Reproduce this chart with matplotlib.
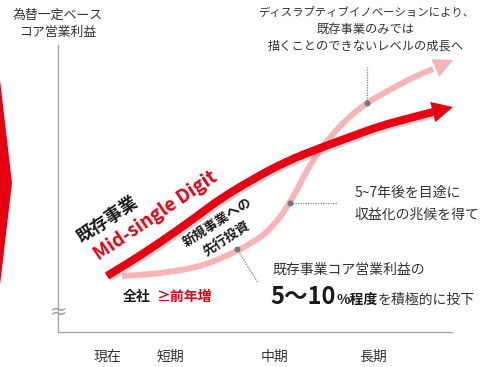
import matplotlib
matplotlib.use('Agg')
import matplotlib.pyplot as plt
import matplotlib.transforms as mtrans
import matplotlib.patheffects as pe
from matplotlib.patches import Polygon, FancyArrowPatch, PathPatch
from matplotlib.path import Path

plt.rcParams['font.family'] = ['Noto Sans CJK JP', 'DejaVu Sans']

# ---------------- data ----------------
periods = ['現在', '短期', '中期', '長期']
period_x = [49, 112, 217, 315]

# existing business (core operating profit growth) curve
existing_x = [49, 72, 92, 117, 142, 162, 195, 229, 262, 292, 322, 352, 375]
existing_y = [56, 70, 83, 100, 118, 133, 153, 171, 184, 195, 206, 214, 220]
existing_tip = [395, 225]

# new business (disruptive innovation) curve
new_x = [64, 82, 104, 137, 162, 195, 215, 232, 245, 255, 265, 275, 285, 297, 309, 324, 339, 352, 365, 375]
new_y = [56, 57, 59, 64, 73, 89, 105, 129, 154, 172, 186, 198, 209, 220, 229, 238, 246, 253, 259, 263]
new_tip = [395, 272]

# callout markers on the new-business curve and end of their leader lines
callout_x = [309, 232, 179]
callout_y = [229, 129, 83]
callout_end_x = [309, 279, 200]
callout_end_y = [265, 129, 49]

RED = '#e60012'
PINK = '#f7b5b8'
GRAY = '#a6a6a6'
TXT = '#333333'


def smooth_path(xs, ys):
    verts = [(xs[0], ys[0])]
    codes = [Path.MOVETO]
    n = len(xs)
    for i in range(1, n - 1):
        if i == n - 2:
            end = (xs[n - 1], ys[n - 1])
        else:
            end = ((xs[i] + xs[i + 1]) / 2, (ys[i] + ys[i + 1]) / 2)
        verts += [(xs[i], ys[i]), end]
        codes += [Path.CURVE3, Path.CURVE3]
    return Path(verts, codes)


W, H = 488, 367
fig = plt.figure(figsize=(W / 100, H / 100), dpi=100)
ax = fig.add_axes([58 / W, 35 / H, 394 / W, 287 / H])
ax.set_xlim(0, 394)
ax.set_ylim(0, 287)
for s in ['top', 'right']:
    ax.spines[s].set_visible(False)
for s in ['left', 'bottom']:
    ax.spines[s].set_color(GRAY)
    ax.spines[s].set_linewidth(1.0)
ax.set_yticks([])
ax.set_xticks(period_x)
ax.set_xticklabels(periods, fontsize=10, color=TXT)
ax.tick_params(axis='x', length=0, pad=13)

# pixel transform for text placement (origin top-left)
px = mtrans.Affine2D().scale(1 / W, -1 / H).translate(0, 1) + fig.transFigure

# left red chevron
fig.patches.append(Polygon([(0, 1 - 80 / H), (12 / W, 1 - 183 / H), (0, 1 - 285 / H)],
                           closed=True, transform=fig.transFigure, facecolor=RED,
                           edgecolor='none'))

# new business curve (pink)
ax.add_patch(PathPatch(smooth_path(new_x, new_y), fill=False, edgecolor=PINK, lw=4.3,
                       capstyle='butt', joinstyle='round', clip_on=False, zorder=2))
ax.add_patch(FancyArrowPatch((new_x[-1], new_y[-1]), tuple(new_tip),
                             arrowstyle='-|>,head_length=14,head_width=7',
                             mutation_scale=1, lw=0, color=PINK, shrinkA=0, shrinkB=0,
                             clip_on=False, zorder=2))

# existing business curve (red)
ax.add_patch(PathPatch(smooth_path(existing_x, existing_y), fill=False, edgecolor=RED, lw=5.8,
                       capstyle='butt', joinstyle='round', clip_on=False, zorder=3,
                       path_effects=[pe.SimpleLineShadow(offset=(1.5, -1.5), shadow_color='k',
                                                         alpha=0.15), pe.Normal()]))
ax.add_patch(FancyArrowPatch((existing_x[-1], existing_y[-1]), tuple(existing_tip),
                             arrowstyle='-|>,head_length=15,head_width=7.5',
                             mutation_scale=1, lw=0, color=RED, shrinkA=0, shrinkB=0,
                             clip_on=False, zorder=3))

# callouts
for cx, cy, ex, ey in zip(callout_x, callout_y, callout_end_x, callout_end_y):
    ax.plot([cx, ex], [cy, ey], color='#808080', lw=0.9, ls=(0, (1, 1)), zorder=4)
ax.scatter(callout_x, callout_y, s=18, color='#777777', zorder=5, linewidths=0)

# axis break sign
fig.text(59, 312, '≈', transform=px, fontsize=15, color=GRAY, ha='center', va='center',
         family='DejaVu Sans')

# y-axis title
fig.text(58, 15, '為替一定ベース', transform=px, fontsize=9.3, color=TXT, ha='center', va='center')
fig.text(58, 32, 'コア営業利益', transform=px, fontsize=9.3, color=TXT, ha='center', va='center')

# top-right text
for yy, s, fs in zip([12, 29, 46], ['ディスラプティブイノベーションにより、', '既存事業のみでは',
                                     '描くことのできないレベルの成長へ'], [8.2, 8.8, 8.8]):
    fig.text(366, yy, s, transform=px, fontsize=fs, color=TXT, ha='center', va='center')

# 5~7 text
fig.text(355, 193, '5~7年後を目途に', transform=px, fontsize=10, color=TXT, ha='left', va='center')
fig.text(355, 215, '収益化の兆候を得て', transform=px, fontsize=10, color=TXT, ha='left', va='center')

# investment text
fig.text(272, 270, '既存事業コア営業利益の', transform=px, fontsize=10, color=TXT,
         ha='left', va='center')
t1 = fig.text(270, 304, '5～10', transform=px, fontsize=17, fontweight='bold', color='#1a1a1a',
              ha='left', va='baseline')
fig.canvas.draw()
r = fig.canvas.get_renderer()
bb1 = t1.get_window_extent(r)
base_y = t1.get_transform().transform(t1.get_position())[1]
t2 = fig.text(bb1.x1 + 1, base_y, '%程度', fontsize=10, fontweight='bold', color='#1a1a1a',
              ha='left', va='baseline', transform=mtrans.IdentityTransform())
fig.canvas.draw()
bb2 = t2.get_window_extent(r)
fig.text(bb2.x1, base_y, 'を積極的に投下', fontsize=10, color=TXT,
         ha='left', va='baseline', transform=mtrans.IdentityTransform())

# 全社 text
t4 = fig.text(123, 297, '全社', transform=px, fontsize=10, fontweight='bold', color='#1a1a1a',
              ha='left', va='center')
fig.canvas.draw()
bb4 = t4.get_window_extent(r)
y4 = t4.get_transform().transform(t4.get_position())[1]
fig.text(bb4.x1 + 6, y4, '≥前年増', fontsize=10, fontweight='bold', color=RED,
         ha='left', va='center', transform=mtrans.IdentityTransform())

# rotated labels
fig.text(107, 220, '既存事業', transform=px, fontsize=12.5, fontweight='bold', color='#1a1a1a',
         ha='center', va='center', rotation=34, rotation_mode='anchor')
fig.text(155, 216, 'Mid-single Digit', transform=px, fontsize=13.5, fontweight='bold',
         color=RED, ha='center', va='center', rotation=34, rotation_mode='anchor')
fig.text(217, 222, '新規事業への', transform=px, fontsize=9.5, fontweight='bold',
         color='#1a1a1a', ha='center', va='center', rotation=33, rotation_mode='anchor')
fig.text(227, 239, '先行投資', transform=px, fontsize=9.5, fontweight='bold',
         color='#1a1a1a', ha='center', va='center', rotation=33, rotation_mode='anchor')

fig.savefig('out.png', dpi=100)
